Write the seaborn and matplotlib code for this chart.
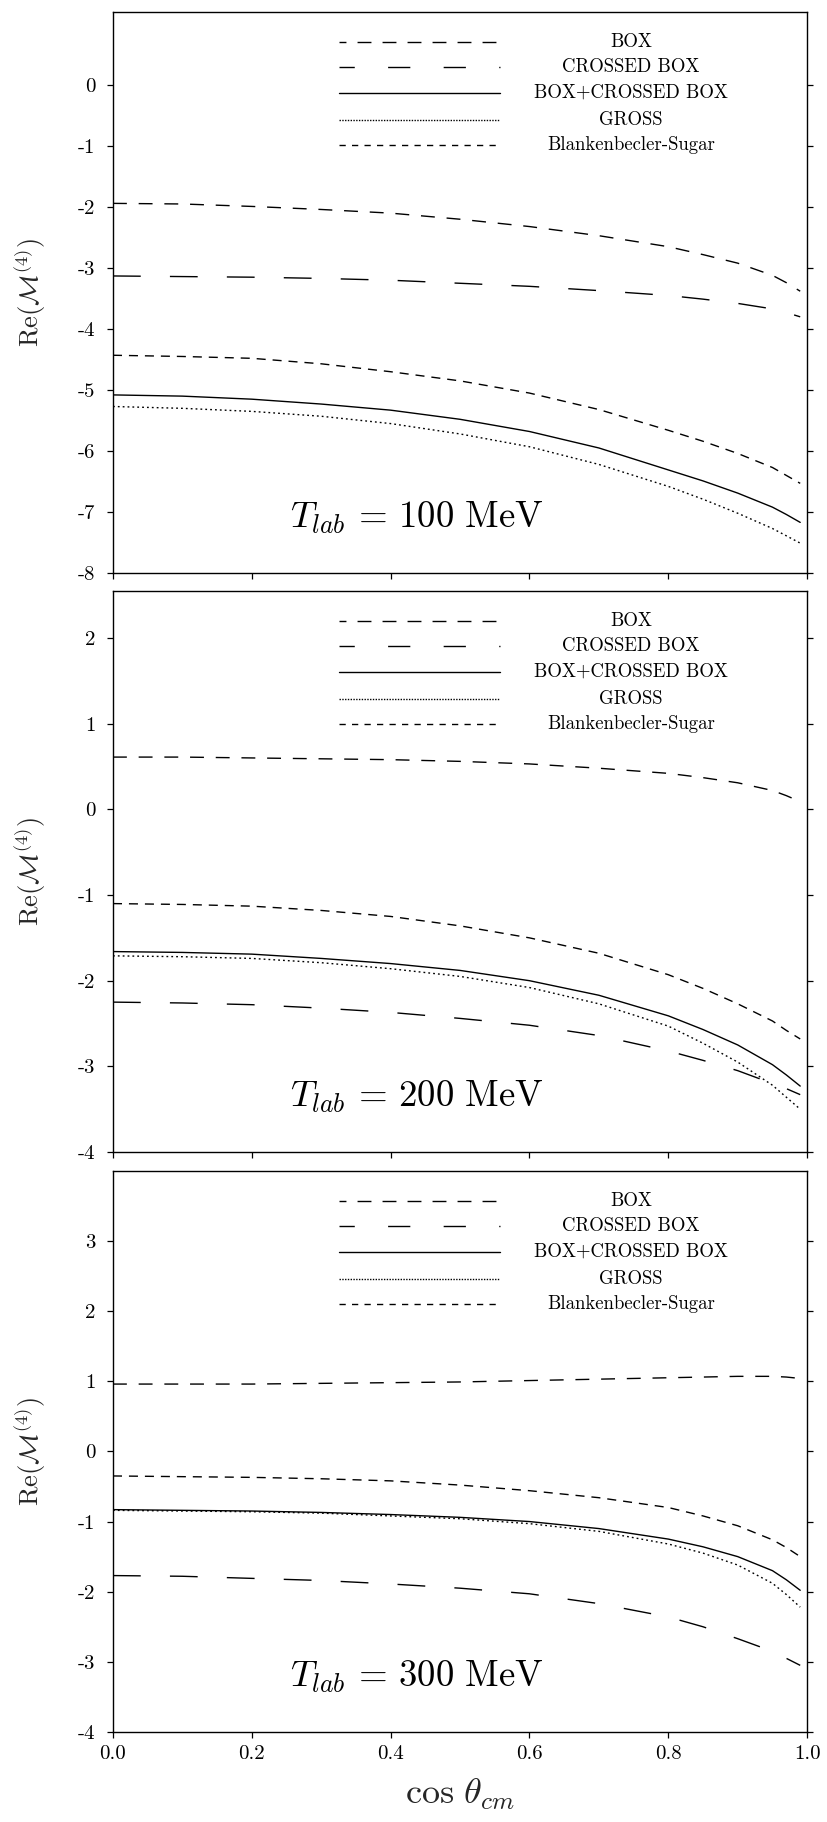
import numpy as np
import matplotlib
matplotlib.use("Agg")
import matplotlib.pyplot as plt
import seaborn as sns

sns.set_theme(style="white")
plt.rcParams['font.family'] = ['cmr10', 'DejaVu Serif']
plt.rcParams['mathtext.fontset'] = 'cm'
plt.rcParams['axes.unicode_minus'] = False
plt.rcParams['axes.formatter.use_mathtext'] = True

# ---------------- data ----------------
cos_theta = [0.0, 0.1, 0.2, 0.3, 0.4, 0.5, 0.6, 0.7, 0.8, 0.85, 0.9, 0.95, 0.97, 0.99]

series_names = ["BOX", "CROSSED BOX", "BOX+CROSSED BOX", "GROSS", "Blankenbecler-Sugar"]

# T_lab = 100 MeV
box_100 = [-1.94, -1.95, -1.99, -2.04, -2.10, -2.20, -2.32, -2.47, -2.65, -2.78, -2.92, -3.12, -3.24, -3.38]
crossed_100 = [-3.13, -3.14, -3.15, -3.17, -3.20, -3.25, -3.30, -3.37, -3.45, -3.51, -3.58, -3.67, -3.73, -3.80]
sum_100 = [-5.08, -5.10, -5.15, -5.23, -5.33, -5.48, -5.68, -5.95, -6.31, -6.49, -6.69, -6.92, -7.04, -7.17]
gross_100 = [-5.27, -5.30, -5.35, -5.43, -5.55, -5.72, -5.93, -6.22, -6.58, -6.79, -7.02, -7.27, -7.39, -7.51]
bs_100 = [-4.43, -4.45, -4.48, -4.57, -4.70, -4.85, -5.05, -5.32, -5.66, -5.84, -6.04, -6.27, -6.40, -6.53]

# T_lab = 200 MeV
box_200 = [0.61, 0.61, 0.60, 0.59, 0.58, 0.56, 0.53, 0.48, 0.42, 0.37, 0.31, 0.22, 0.16, 0.09]
crossed_200 = [-2.25, -2.26, -2.28, -2.32, -2.37, -2.44, -2.52, -2.64, -2.82, -2.93, -3.05, -3.20, -3.26, -3.33]
sum_200 = [-1.66, -1.67, -1.69, -1.74, -1.80, -1.88, -2.00, -2.17, -2.41, -2.57, -2.75, -2.98, -3.10, -3.23]
gross_200 = [-1.71, -1.72, -1.74, -1.79, -1.86, -1.95, -2.08, -2.27, -2.53, -2.73, -2.95, -3.22, -3.36, -3.50]
bs_200 = [-1.10, -1.11, -1.13, -1.18, -1.25, -1.36, -1.50, -1.68, -1.93, -2.09, -2.27, -2.47, -2.58, -2.68]

# T_lab = 300 MeV
box_300 = [0.96, 0.96, 0.96, 0.97, 0.98, 0.99, 1.01, 1.03, 1.05, 1.06, 1.07, 1.07, 1.06, 1.04]
crossed_300 = [-1.77, -1.78, -1.81, -1.84, -1.89, -1.95, -2.03, -2.17, -2.36, -2.50, -2.67, -2.85, -2.95, -3.05]
sum_300 = [-0.83, -0.84, -0.85, -0.87, -0.90, -0.94, -1.00, -1.10, -1.25, -1.36, -1.50, -1.70, -1.83, -1.98]
gross_300 = [-0.84, -0.85, -0.86, -0.88, -0.92, -0.96, -1.03, -1.14, -1.32, -1.45, -1.62, -1.88, -2.04, -2.22]
bs_300 = [-0.35, -0.36, -0.37, -0.39, -0.42, -0.48, -0.56, -0.66, -0.80, -0.92, -1.06, -1.26, -1.37, -1.50]

energies = ["100", "200", "300"]
yticks_100 = [0, -1, -2, -3, -4, -5, -6, -7, -8]
yticks_200 = [2, 1, 0, -1, -2, -3, -4]
yticks_300 = [3, 2, 1, 0, -1, -2, -3, -4]
ylims = [(-8, 1.2), (-4, 2.55), (-4, 4.0)]
xticks = [0.0, 0.2, 0.4, 0.6, 0.8, 1.0]
xtick_labels = ["0.0", "0.2", "0.4", "0.6", "0.8", "1.0"]

panels = [
    (box_100, crossed_100, sum_100, gross_100, bs_100),
    (box_200, crossed_200, sum_200, gross_200, bs_200),
    (box_300, crossed_300, sum_300, gross_300, bs_300),
]
ytick_sets = [yticks_100, yticks_200, yticks_300]

# ---------------- styles ----------------
styles = [
    (0, (10, 8.5)),      # BOX
    (0, (20, 21)),       # CROSSED BOX
    "-",                 # BOX+CROSSED BOX
    (0, (1.3, 2.2)),     # GROSS
    (0, (6.5, 5.0)),     # Blankenbecler-Sugar
]
legend_styles = [
    (5, (10, 8)),
    (5, (16, 24)),
    "-",
    (0, (1.0, 1.0)),
    (0, (4.5, 4.5)),
]
LW = 1.0

fig = plt.figure(figsize=(8.27, 18.22), dpi=100)
left, width = 0.1366, 0.8394
bottoms = [0.6855, 0.3677, 0.0494]
height = 0.308

for i, (series, yt, yl, en) in enumerate(zip(panels, ytick_sets, ylims, energies)):
    ax = fig.add_axes([left, bottoms[i], width, height])
    for vals, ls in zip(series, styles):
        sns.lineplot(x=cos_theta, y=vals, ax=ax, color="black", linestyle=ls,
                     linewidth=LW, sort=False, estimator=None)
    ax.set_xlim(0, 1.0)
    ax.set_ylim(*yl)
    ax.set_yticks(yt, [str(v) for v in yt])
    ax.set_xticks(xticks, xtick_labels if i == 2 else [""] * len(xticks))
    ax.tick_params(axis="both", which="both", direction="out", length=4.5, width=0.9,
                   color="black", labelsize=15, labelcolor="black")
    ax.tick_params(axis="y", right=True, left=True, pad=8)
    ax.tick_params(axis="x", bottom=True, top=False, pad=5)
    for sp in ax.spines.values():
        sp.set_color("black")
        sp.set_linewidth(1.0)
    ax.set_xlabel("")
    ax.set_ylabel(r"Re($\mathcal{M}^{(4)}$)", fontsize=19, labelpad=22)

    # legend keys
    row_y = [0.947, 0.902, 0.856, 0.807, 0.763]
    for name, ls, yy in zip(series_names, legend_styles, row_y):
        ax.plot([0.326, 0.558], [yy, yy], transform=ax.transAxes, color="black",
                linestyle=ls, linewidth=LW)
        ax.text(0.746, yy, name, transform=ax.transAxes, ha="center", va="center",
                fontsize=13.5, color="black")

    ax.text(0.255, 0.098, r"$T_{lab}\,=\,%s\ \mathrm{MeV}$" % en, transform=ax.transAxes,
            ha="left", va="center", fontsize=26.5, color="black")

    if i == 2:
        ax.set_xlabel(r"$\cos\,\theta_{cm}$", fontsize=26, labelpad=10)

fig.savefig("out.png", dpi=100)
